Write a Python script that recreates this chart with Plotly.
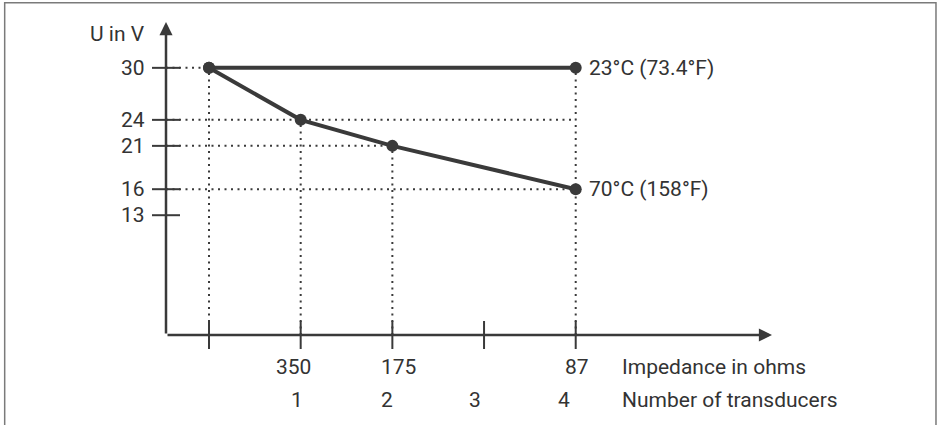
import plotly.graph_objects as go

# ---- data ----
x_positions = [0, 1, 2, 3, 4]                 # slot index (0 = no transducer)
impedance_labels = ["", "350", "175", "", "87"]
transducer_labels = ["", "1", "2", "3", "4"]

y_ticks = [30, 24, 21, 16, 13]

series_23_x = [0, 4]
series_23_y = [30, 30]
series_23_name = "23°C (73.4°F)"

series_70_x = [0, 1, 2, 4]
series_70_y = [30, 24, 21, 16]
series_70_name = "70°C (158°F)"

# guide (dotted) lines
h_guide_y = [30, 24, 21, 16]
h_guide_xend = [0, 4, 2, 4]
v_guide_x = [0, 1, 2, 4]
v_guide_ytop = [30, 24, 21, 30]

y_title = "U in V"
x_title_1 = "Impedance in ohms"
x_title_2 = "Number of transducers"

# ---- style ----
X_MIN, X_MAX = -0.469, 6.141
Y_MIN, Y_MAX = -0.82, 35.29
DARK = "#3a3a3a"
TEXT = "#333333"
FONT = "Roboto"
FS = 21

fig = go.Figure()

# dotted guides
gx, gy = [], []
for yv, xe in zip(h_guide_y, h_guide_xend):
    gx += [X_MIN, xe, None]
    gy += [yv, yv, None]
for xv, yt in zip(v_guide_x, v_guide_ytop):
    gx += [xv, xv, None]
    gy += [Y_MIN, yt, None]
fig.add_trace(go.Scatter(x=gx, y=gy, mode="lines",
                         line=dict(color=DARK, width=2, dash="2px,4.5px"),
                         hoverinfo="skip", showlegend=False, cliponaxis=False))

# series
for xs, ys in [(series_23_x, series_23_y), (series_70_x, series_70_y)]:
    fig.add_trace(go.Scatter(x=xs, y=ys, mode="lines+markers",
                             line=dict(color=DARK, width=4),
                             marker=dict(color=DARK, size=12),
                             showlegend=False, cliponaxis=False))

# axis lines with arrows
fig.add_annotation(x=X_MIN, y=Y_MAX, ax=X_MIN, ay=Y_MIN, xref="x", yref="y",
                   axref="x", ayref="y", showarrow=True, arrowhead=2,
                   arrowsize=1.05, arrowwidth=2.5, arrowcolor=DARK, text="")
fig.add_annotation(x=X_MAX, y=Y_MIN, ax=X_MIN, ay=Y_MIN, xref="x", yref="y",
                   axref="x", ayref="y", showarrow=True, arrowhead=2,
                   arrowsize=1.05, arrowwidth=2.5, arrowcolor=DARK, text="")

# tick marks crossing the axes
fig.add_trace(go.Scatter(x=[X_MIN] * len(y_ticks), y=y_ticks, mode="markers",
                         marker=dict(symbol="line-ew", size=20,
                                     line=dict(color=DARK, width=2)),
                         hoverinfo="skip", showlegend=False, cliponaxis=False))
fig.add_trace(go.Scatter(x=x_positions, y=[Y_MIN] * len(x_positions), mode="markers",
                         marker=dict(symbol="line-ns", size=20,
                                     line=dict(color=DARK, width=2)),
                         hoverinfo="skip", showlegend=False, cliponaxis=False))

font = dict(family=FONT, size=FS, color=TEXT)

# y tick labels
for v in y_ticks:
    fig.add_annotation(x=X_MIN, y=v, xref="x", yref="y", text=str(v),
                       showarrow=False, xanchor="right", yanchor="middle",
                       xshift=-19, font=font)
fig.add_annotation(x=X_MIN, y=33.9, xref="x", yref="y", text=y_title,
                   showarrow=False, xanchor="right", yanchor="middle",
                   xshift=-19, font=font)

# x labels (two rows)
imp_shift = [0, -7, 6, 0, 1]
num_shift = [0, -4, -5, -9, -12]
for xv, lab, s in zip(x_positions, impedance_labels, imp_shift):
    if lab:
        fig.add_annotation(x=xv, y=Y_MIN, xref="x", yref="y", text=lab,
                           showarrow=False, xanchor="center", yanchor="middle",
                           xshift=s, yshift=-32, font=font)
for xv, lab, s in zip(x_positions, transducer_labels, num_shift):
    if lab:
        fig.add_annotation(x=xv, y=Y_MIN, xref="x", yref="y", text=lab,
                           showarrow=False, xanchor="center", yanchor="middle",
                           xshift=s, yshift=-65, font=font)
fig.add_annotation(x=x_positions[-1], y=Y_MIN, xref="x", yref="y", text=x_title_1,
                   showarrow=False, xanchor="left", yanchor="middle",
                   xshift=44, yshift=-32, font=font)
fig.add_annotation(x=x_positions[-1], y=Y_MIN, xref="x", yref="y", text=x_title_2,
                   showarrow=False, xanchor="left", yanchor="middle",
                   xshift=44, yshift=-65, font=font)

# series labels
fig.add_annotation(x=series_23_x[-1], y=series_23_y[-1], xref="x", yref="y",
                   text=series_23_name, showarrow=False, xanchor="left",
                   yanchor="middle", xshift=11, font=font)
fig.add_annotation(x=series_70_x[-1], y=series_70_y[-1], xref="x", yref="y",
                   text=series_70_name, showarrow=False, xanchor="left",
                   yanchor="middle", xshift=11, font=font)

# outer frame (open at bottom)
fig.add_shape(type="path", xref="paper", yref="paper",
              path="M -0.2662,-0.32 L -0.2662,1.0617 L 1.2706,1.0617 L 1.2706,-0.32",
              line=dict(color="#7a7a7a", width=1.5))

fig.update_layout(
    width=942, height=425,
    margin=dict(l=166, r=170, t=22, b=90),
    paper_bgcolor="white", plot_bgcolor="white",
    xaxis=dict(range=[X_MIN, X_MAX], visible=False, fixedrange=True),
    yaxis=dict(range=[Y_MIN, Y_MAX], visible=False, fixedrange=True),
    showlegend=False,
    hovermode=False,
)

fig.write_html("out.html",
               config={"displayModeBar": False, "staticPlot": True},
               post_script="document.body.style.margin='0px';"
                           "document.body.style.overflow='hidden';")
